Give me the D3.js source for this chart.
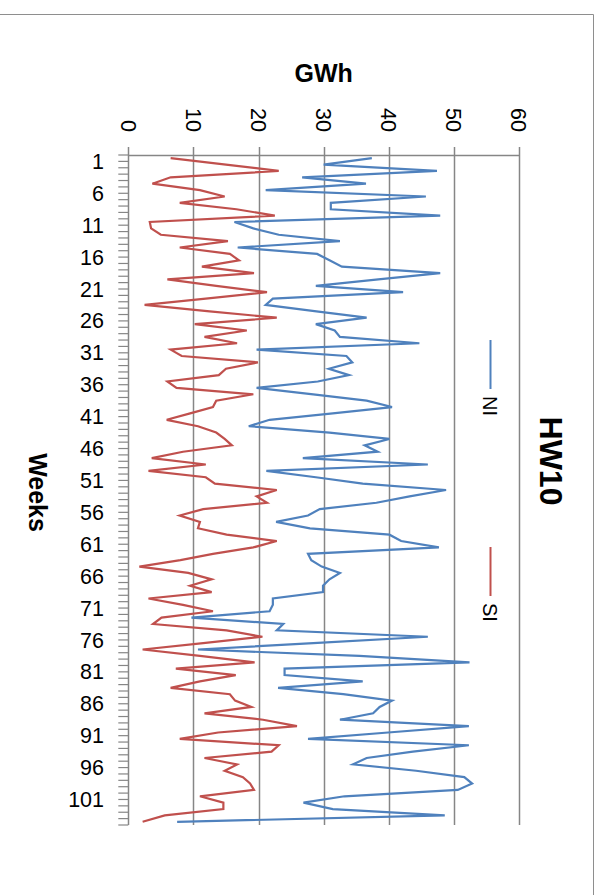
<!DOCTYPE html>
<html>
<head>
<meta charset="utf-8">
<script src="https://cdn.jsdelivr.net/npm/d3@7"></script>
<style>
  body { margin: 0; background: #fff; }
  svg { display: block; }
  text { font-family: "Liberation Sans", Arial, sans-serif; fill: #000; }
</style>
</head>
<body>
<svg id="chart" width="602" height="895"></svg>
<script>
// Weekly hydro storage inflow (GWh) for the North Island (NI) and South Island (SI)
const weeks = d3.range(1, 106);

const niValues = [
  37.4, 30.0, 47.4, 26.7, 36.5, 21.1, 45.7, 31.1, 31.1, 47.9,
  16.3, 19.2, 23.1, 32.5, 16.8, 29.0, 30.9, 32.8, 47.9, 38.4,
  28.8, 42.2, 22.2, 21.1, 28.9, 36.6, 28.8, 31.7, 32.5, 44.7,
  19.7, 33.5, 34.4, 30.8, 33.9, 29.1, 19.7, 28.4, 36.6, 40.5,
  31.4, 21.7, 18.5, 30.9, 40.1, 36.3, 38.3, 26.8, 46.0, 21.2,
  28.8, 36.0, 48.8, 43.2, 38.1, 29.4, 27.6, 22.7, 27.9, 40.1,
  41.9, 47.7, 27.6, 28.1, 29.7, 32.5, 30.9, 29.9, 29.9, 22.2,
  22.2, 21.7, 9.7, 23.8, 22.8, 46.0, 28.4, 10.7, 35.5, 52.4,
  24.0, 24.0, 36.0, 23.0, 33.0, 40.5, 38.6, 37.6, 32.5, 52.3,
  39.9, 27.6, 52.3, 43.7, 36.6, 34.5, 44.2, 51.6, 52.8, 50.6,
  33.2, 26.9, 31.4, 48.6, 7.5
];

const siValues = [
  6.5, 15.0, 23.1, 6.5, 3.7, 11.0, 14.8, 7.9, 16.6, 22.5,
  3.3, 3.5, 5.0, 15.3, 7.9, 15.6, 17.0, 11.3, 19.3, 6.0,
  13.5, 21.3, 11.9, 2.5, 12.5, 22.8, 10.2, 18.2, 11.7, 16.7,
  6.5, 8.2, 19.9, 15.0, 13.9, 6.0, 7.4, 19.2, 13.5, 13.0,
  9.5, 5.9, 10.7, 13.5, 14.8, 15.9, 8.4, 3.6, 11.9, 3.1,
  11.9, 13.3, 22.8, 19.7, 21.3, 11.5, 7.9, 11.0, 10.7, 15.1,
  22.8, 19.2, 13.0, 8.0, 1.7, 9.2, 12.8, 9.5, 12.8, 3.1,
  8.4, 13.0, 5.1, 3.8, 15.1, 20.6, 11.5, 2.2, 11.0, 19.4,
  7.3, 16.5, 11.0, 6.5, 15.6, 16.4, 18.9, 11.7, 20.7, 25.9,
  13.8, 7.9, 23.1, 22.0, 11.7, 16.7, 14.8, 17.6, 18.7, 19.3,
  11.0, 14.6, 14.6, 5.6, 2.2
];

const seriesNames = ["NI", "SI"];
const seriesColors = ["#4F81BD", "#C0504D"];
const gwhTicks = [0, 10, 20, 30, 40, 50, 60];
const weekTickLabels = [1, 6, 11, 16, 21, 26, 31, 36, 41, 46, 51, 56, 61, 66, 71, 76, 81, 86, 91, 96, 101];

const chartTitle = "HW10";
const valueTitle = "GWh";
const categoryTitle = "Weeks";

const svg = d3.select("#chart");
const axisGrey = "#868686";

// Outer chart frame
svg.append("path")
  .attr("d", "M0,14.5H593.5V895")
  .attr("fill", "none")
  .attr("stroke", "#8e8e8e")
  .attr("stroke-width", 1);

// Scales: GWh runs left to right, weeks run top to bottom
const x = d3.scaleLinear().domain([0, 60]).range([128.3, 519]);
const y = d3.scaleBand().domain(weeks).range([155, 825]).paddingInner(0).paddingOuter(0);
const yc = w => y(w) + y.bandwidth() / 2;

const plotTop = y.range()[0], plotBottom = y.range()[1];

// Vertical gridlines
svg.append("g").selectAll("line")
  .data(gwhTicks.filter(d => d > 0))
  .join("line")
  .attr("x1", d => Math.round(x(d)) + 0.5).attr("x2", d => Math.round(x(d)) + 0.5)
  .attr("y1", plotTop).attr("y2", plotBottom)
  .attr("stroke", axisGrey).attr("stroke-width", 1.5);

// Value axis (top) with outward ticks
const vAxis = svg.append("g");
vAxis.append("line")
  .attr("x1", x(0)).attr("x2", x(60))
  .attr("y1", plotTop + 0.5).attr("y2", plotTop + 0.5)
  .attr("stroke", axisGrey).attr("stroke-width", 1.5);
vAxis.selectAll("line.tick")
  .data(gwhTicks)
  .join("line")
  .attr("class", "tick")
  .attr("x1", d => Math.round(x(d)) + 0.5).attr("x2", d => Math.round(x(d)) + 0.5)
  .attr("y1", plotTop - 8).attr("y2", plotTop)
  .attr("stroke", axisGrey).attr("stroke-width", 1.5);
vAxis.selectAll("text")
  .data(gwhTicks)
  .join("text")
  .attr("transform", d => `translate(${x(d)},132) rotate(90)`)
  .attr("text-anchor", "end")
  .attr("dy", "0.36em")
  .style("font-size", "21.5px")
  .text(d => d);

// Category axis (left) with tick marks on week boundaries
const cAxis = svg.append("g");
cAxis.append("line")
  .attr("x1", Math.round(x(0)) + 0.5).attr("x2", Math.round(x(0)) + 0.5)
  .attr("y1", plotTop).attr("y2", plotBottom)
  .attr("stroke", axisGrey).attr("stroke-width", 1.5);
cAxis.selectAll("line.tick")
  .data(d3.range(weeks.length + 1))
  .join("line")
  .attr("class", "tick")
  .attr("x1", x(0) - 10).attr("x2", x(0))
  .attr("y1", i => plotTop + i * y.step())
  .attr("y2", i => plotTop + i * y.step())
  .attr("stroke", axisGrey).attr("stroke-width", 1.2);
cAxis.selectAll("text")
  .data(weekTickLabels)
  .join("text")
  .attr("x", 104)
  .attr("y", d => yc(d) + 3)
  .attr("text-anchor", "end")
  .attr("dy", "0.36em")
  .style("font-size", "21.5px")
  .text(d => d);

// Series lines
const seriesData = [niValues, siValues];
const line = d3.line()
  .x(d => x(d.v))
  .y(d => yc(d.w));
svg.append("g").selectAll("path")
  .data(seriesData.map((vals, i) => ({ name: seriesNames[i], color: seriesColors[i], pts: vals.map((v, j) => ({ w: weeks[j], v })) })))
  .join("path")
  .attr("d", d => line(d.pts))
  .attr("fill", "none")
  .attr("stroke", d => d.color)
  .attr("stroke-width", 2.2)
  .attr("stroke-linejoin", "miter");

// Titles
svg.append("text")
  .attr("x", x(30))
  .attr("y", 82)
  .attr("text-anchor", "middle")
  .style("font-size", "25px").style("font-weight", "bold")
  .text(valueTitle);

svg.append("text")
  .attr("transform", "translate(37.5,492.5) rotate(90)")
  .attr("text-anchor", "middle")
  .attr("dy", "0.36em")
  .style("font-size", "25px").style("font-weight", "bold")
  .text(categoryTitle);

svg.append("text")
  .attr("transform", "translate(551.5,461) rotate(90)")
  .attr("text-anchor", "middle")
  .attr("dy", "0.36em")
  .style("font-size", "32px").style("font-weight", "bold")
  .text(chartTitle);

// Legend: short vertical key line followed by the series name
const legendTop = [340, 547];
const legend = svg.append("g").selectAll("g")
  .data(seriesNames.map((n, i) => ({ name: n, color: seriesColors[i], top: legendTop[i] })))
  .join("g")
  .attr("transform", d => `translate(490.5,${d.top})`);
legend.append("line")
  .attr("x1", 0).attr("x2", 0)
  .attr("y1", 0).attr("y2", 49)
  .attr("stroke", d => d.color).attr("stroke-width", 2);
legend.append("text")
  .attr("transform", "translate(0,56) rotate(90)")
  .attr("dy", "0.36em")
  .style("font-size", "20px")
  .text(d => d.name);
</script>
</body>
</html>
